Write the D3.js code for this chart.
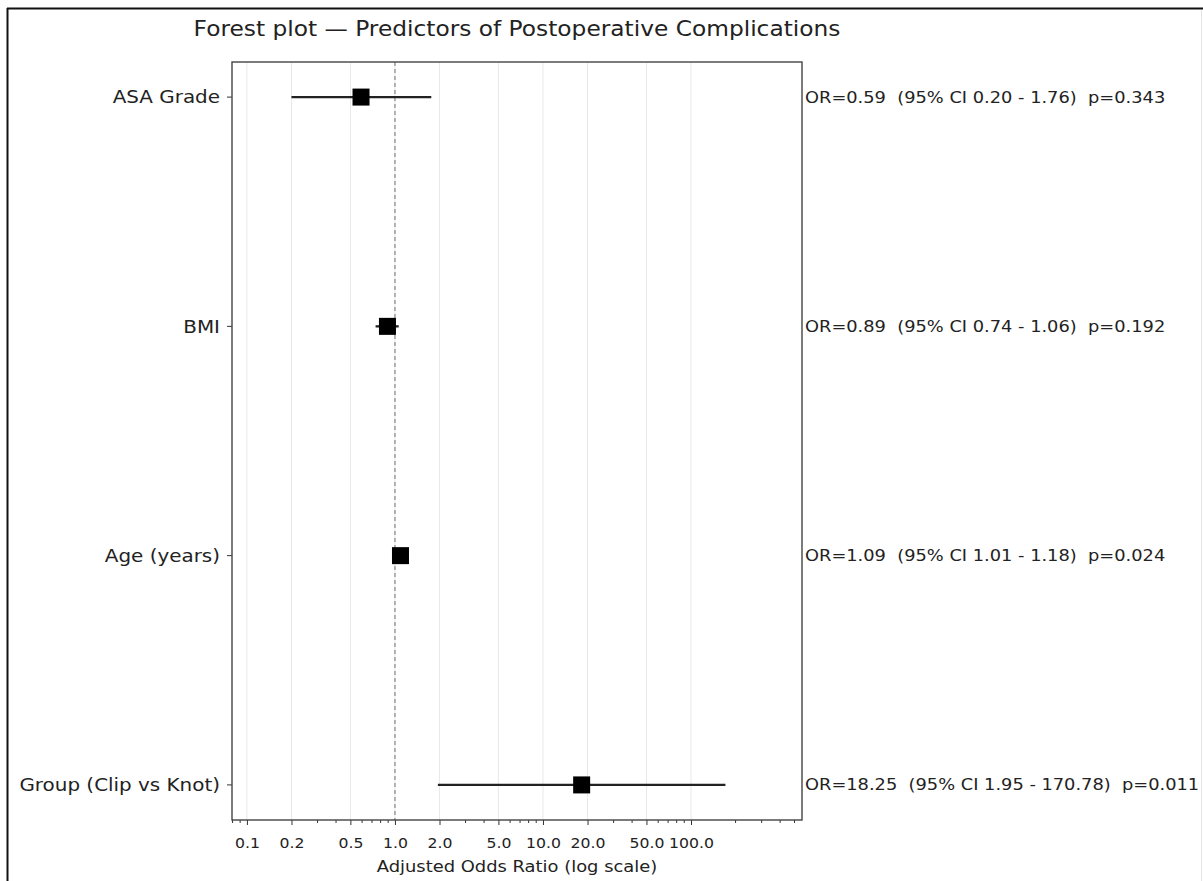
<!DOCTYPE html>
<html>
<head>
<meta charset="utf-8">
<script src="https://cdn.jsdelivr.net/npm/d3@7"></script>
<style>
  body { margin: 0; background: #fff; }
  text { font-family: "DejaVu Sans", sans-serif; fill: #222; }
</style>
</head>
<body>
<div id="chart"></div>
<script>
// Forest plot data (top to bottom)
const predictors = ["ASA Grade", "BMI", "Age (years)", "Group (Clip vs Knot)"];
const oddsRatios = [0.59, 0.89, 1.09, 18.25];
const ciLow = [0.20, 0.74, 1.01, 1.95];
const ciHigh = [1.76, 1.06, 1.18, 170.78];
const pValues = ["0.343", "0.192", "0.024", "0.011"];
const tickValues = [0.1, 0.2, 0.5, 1, 2, 5, 10, 20, 50, 100];

const width = 1203, height = 881;
const margin = { top: 62, right: 401, bottom: 61, left: 232 };
const innerW = width - margin.left - margin.right;
const innerH = height - margin.top - margin.bottom;
const stretch = 1.12; // reference text is slightly wide

const svg = d3.select("#chart").append("svg")
    .attr("width", width)
    .attr("height", height);

// outer frame (top and left edges visible in reference)
svg.append("line").attr("x1", 7).attr("x2", width).attr("y1", 8.5).attr("y2", 8.5)
    .attr("stroke", "#111").attr("stroke-width", 2);
svg.append("line").attr("x1", 7.5).attr("x2", 7.5).attr("y1", 8).attr("y2", height)
    .attr("stroke", "#111").attr("stroke-width", 2);
svg.append("line").attr("x1", 1201.5).attr("x2", 1201.5).attr("y1", 10).attr("y2", height)
    .attr("stroke", "#e4e4e4").attr("stroke-width", 1);

const g = svg.append("g")
    .attr("transform", `translate(${margin.left},${margin.top})`);

const x = d3.scaleLog()
    .domain([0.0793, 562])
    .range([0, innerW]);

const y = d3.scaleLinear()
    .domain([-0.153, 3.153])
    .range([0, innerH]);

// gridlines at labelled ticks
g.selectAll(".grid")
    .data(tickValues)
    .enter().append("line")
    .attr("x1", d => x(d)).attr("x2", d => x(d))
    .attr("y1", 0).attr("y2", innerH)
    .attr("stroke", "#e8e8e8")
    .attr("stroke-width", 1);

// reference line at OR = 1
g.append("line")
    .attr("x1", x(1)).attr("x2", x(1))
    .attr("y1", 0).attr("y2", innerH)
    .attr("stroke", "#888")
    .attr("stroke-width", 1.2)
    .attr("stroke-dasharray", "4,3");

// minor ticks
const minorTicks = [];
[0.01, 0.1, 1, 10, 100].forEach(dec => {
    for (let k = 2; k <= 9; k++) {
        const v = dec * k;
        if (v >= x.domain()[0] && v <= x.domain()[1] && !tickValues.includes(+v.toFixed(6))) minorTicks.push(v);
    }
});
g.selectAll(".minor")
    .data(minorTicks)
    .enter().append("line")
    .attr("x1", d => x(d)).attr("x2", d => x(d))
    .attr("y1", innerH).attr("y2", innerH + 3)
    .attr("stroke", "#333")
    .attr("stroke-width", 1);

// x axis
const xAxis = g.append("g")
    .attr("transform", `translate(0,${innerH})`)
    .call(d3.axisBottom(x)
        .tickValues(tickValues)
        .tickFormat(d => d.toFixed(1))
        .tickSize(5)
        .tickPadding(13));
xAxis.select(".domain").remove();
xAxis.selectAll("line").attr("stroke", "#333");
xAxis.selectAll("text")
    .style("font-family", "DejaVu Sans, sans-serif")
    .style("font-size", "14px")
    .attr("fill", "#222")
    .attr("transform", `scale(${stretch},1)`);

// y axis ticks
g.selectAll(".ytick")
    .data(predictors)
    .enter().append("line")
    .attr("x1", -5).attr("x2", 0)
    .attr("y1", (d, i) => y(i)).attr("y2", (d, i) => y(i))
    .attr("stroke", "#333");

g.selectAll(".ylabel")
    .data(predictors)
    .enter().append("text")
    .attr("transform", (d, i) => `translate(-12,${y(i)}) scale(${stretch},1)`)
    .attr("dy", "0.35em")
    .attr("text-anchor", "end")
    .style("font-size", "17.8px")
    .text(d => d);

// confidence interval lines
g.selectAll(".ci")
    .data(predictors)
    .enter().append("line")
    .attr("x1", (d, i) => x(ciLow[i]))
    .attr("x2", (d, i) => x(ciHigh[i]))
    .attr("y1", (d, i) => y(i)).attr("y2", (d, i) => y(i))
    .attr("stroke", "#222")
    .attr("stroke-width", 2.3);

// point estimates
const sq = 17;
g.selectAll(".pt")
    .data(predictors)
    .enter().append("rect")
    .attr("x", (d, i) => x(oddsRatios[i]) - sq / 2)
    .attr("y", (d, i) => y(i) - sq / 2)
    .attr("width", sq).attr("height", sq)
    .attr("fill", "#000");

// plot frame
g.append("rect")
    .attr("width", innerW).attr("height", innerH)
    .attr("fill", "none")
    .attr("stroke", "#444")
    .attr("stroke-width", 1.4);

// annotations to the right
g.selectAll(".ann")
    .data(predictors)
    .enter().append("text")
    .attr("transform", (d, i) => `translate(${innerW + 3},${y(i)}) scale(${stretch},1)`)
    .attr("dy", "0.35em")
    .style("font-size", "15.9px")
    .text((d, i) => `OR=${oddsRatios[i].toFixed(2)}\u00a0\u00a0(95% CI ${ciLow[i].toFixed(2)} - ${ciHigh[i].toFixed(2)})\u00a0\u00a0p=${pValues[i]}`);

// title
svg.append("text")
    .attr("transform", `translate(${margin.left + innerW / 2},36) scale(${stretch},1)`)
    .attr("text-anchor", "middle")
    .style("font-size", "20.8px")
    .text("Forest plot \u2014 Predictors of Postoperative Complications");

// x label
svg.append("text")
    .attr("transform", `translate(${margin.left + innerW / 2},872) scale(${stretch},1)`)
    .attr("text-anchor", "middle")
    .style("font-size", "16px")
    .text("Adjusted Odds Ratio (log scale)");
</script>
</body>
</html>
